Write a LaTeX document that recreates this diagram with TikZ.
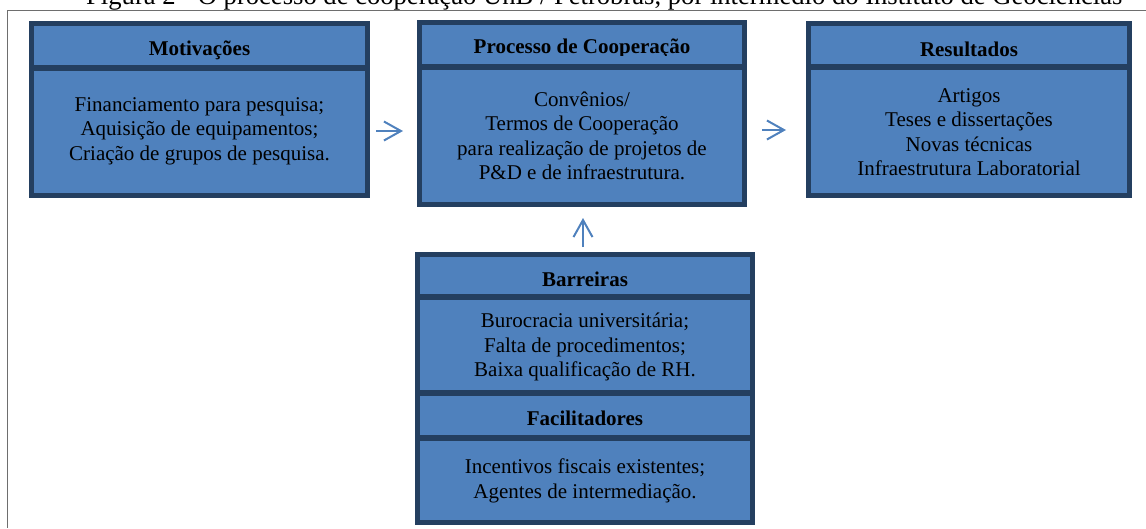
\documentclass[tikz,border=0pt]{standalone}
\usepackage{fontspec}
\usepackage{graphicx}
\setmainfont{Liberation Serif}
\usetikzlibrary{arrows.meta}
\definecolor{boxfill}{HTML}{4F81BD}
\definecolor{boxline}{HTML}{243F60}
\definecolor{framegray}{HTML}{6E6E6E}
\begin{document}
\begin{tikzpicture}[x=1pt,y=-1pt,
  panel/.style={draw=boxline, fill=boxfill, line width=5pt, inner sep=0pt},
  divider/.style={draw=boxline, line width=6pt},
  headtxt/.style={anchor=base, inner sep=0pt, font=\fontsize{21}{24.4}\selectfont\bfseries},
  bodytxt/.style={anchor=center, inner sep=0pt, align=center, font=\fontsize{21}{24.4}\selectfont},
  arr/.style={draw=boxfill, line width=2pt, -{Straight Barb[length=17pt,width=19pt]}}]
\useasboundingbox (0,0) rectangle (1146,528);
\clip (0,0) rectangle (1146,528);

% frame and caption
\draw[framegray, line width=1pt] (1146,10) -- (7,10) -- (7,528);
\node[anchor=base west, inner sep=0pt] (title) at (86,4)
  {\resizebox{1036pt}{!}{Figura 2 - O processo de cooperação UnB / Petrobras, por intermédio do Instituto de Geociências}};

% panels
\node[panel, minimum width=336pt, minimum height=172pt] (mot) at (199.5,109.5) {};
\node[panel, minimum width=325pt, minimum height=182pt] (proc) at (582,113.5) {};
\node[panel, minimum width=321pt, minimum height=172pt] (res) at (969,109.5) {};
\node[panel, minimum width=335pt, minimum height=268pt] (bf) at (585,388.5) {};

% dividers
\draw[divider] (mot.west |- 0,68) -- (mot.east |- 0,68);
\draw[divider] (proc.west |- 0,67) -- (proc.east |- 0,67);
\draw[divider] (res.west |- 0,67) -- (res.east |- 0,67);
\draw[divider] (bf.west |- 0,297) -- (bf.east |- 0,297);
\draw[divider] (bf.west |- 0,393) -- (bf.east |- 0,393);
\draw[divider] (bf.west |- 0,438) -- (bf.east |- 0,438);

% headers
\node[headtxt] (motH) at (199.5,55) {Motivações};
\begin{scope}
  \clip (417,20) rectangle (747,55.5);
  \node[headtxt] (procH) at (582,53) {Processo de Cooperação};
\end{scope}
\node[headtxt] (resH) at (969,56) {Resultados};
\node[headtxt] (barH) at (585,286) {Barreiras};
\node[headtxt] (facH) at (585,425) {Facilitadores};

% bodies
\node[bodytxt] (motB) at (199.5,131) {Financiamento para pesquisa;\\Aquisição de equipamentos;\\Criação de grupos de pesquisa.};
\node[bodytxt] (procB) at (582,136) {Convênios/\\Termos de Cooperação\\para realização de projetos de\\P\&D e de infraestrutura.};
\node[bodytxt] (resB) at (969,132) {Artigos\\Teses e dissertações\\Novas técnicas\\Infraestrutura Laboratorial};
\node[bodytxt] (barB) at (585,347) {Burocracia universitária;\\Falta de procedimentos;\\Baixa qualificação de RH.};
\node[bodytxt] (facB) at (585,481) {Incentivos fiscais existentes;\\Agentes de intermediação.};

% connectors
\coordinate (a1) at (0,131);
\coordinate (a2) at (0,130);
\coordinate (a3) at (583,0);
\draw[arr, shorten <=6pt, shorten >=14pt] (mot.east |- a1) -- (proc.west |- a1);
\draw[arr, shorten <=15pt, shorten >=20pt] (proc.east |- a2) -- (res.west |- a2);
\draw[arr, shorten <=5pt, shorten >=11pt] (bf.north -| a3) -- (proc.south -| a3);
\end{tikzpicture}
\end{document}
